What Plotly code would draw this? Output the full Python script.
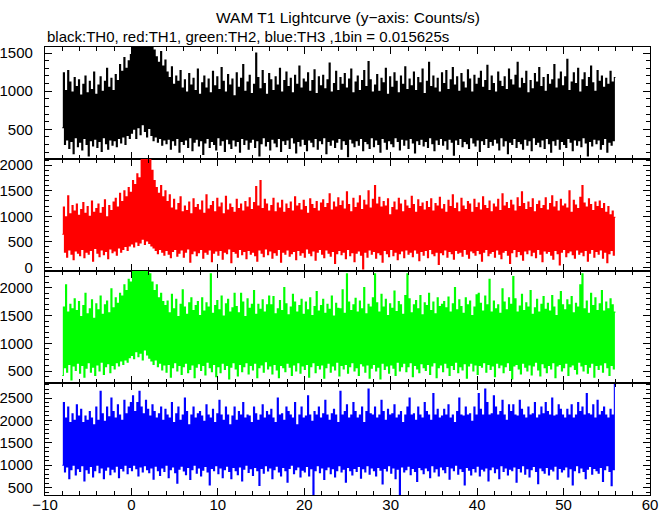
import numpy as np
import plotly.graph_objects as go
from plotly.subplots import make_subplots

# Time axis of the (re-binned) lightcurves, seconds
t_start = -8.0
bin_width = 0.125

# Counts/s (alternating local low / high of the dense band)
th0 = [
    520,1240, 300,1010, 360,1270, 250,1120, 340,990, 180,1180, 390,1060, 270,1150,
    330,950, 230,1090, 380,1200, 300,980, 150,1130, 350,1020, 280,1250, 370,960,
    260,1080, 340,1190, 210,1000, 390,1130, 310,1300, 240,1050, 360,1170, 290,1010,
    350,1220, 270,1140, 380,1350, 320,1260, 400,1440, 300,1300, 420,1400, 380,1480,
    450,1650, 500,1650, 380,1600, 520,1650, 430,1650, 560,1650, 470,1650, 400,1650,
    510,1650, 420,1620, 350,1540, 400,1450, 330,1380, 380,1520, 290,1330, 360,1410,
    310,1250, 370,1180, 240,1320, 350,1090, 290,1200, 380,1130, 200,1270, 340,1040,
    300,1150, 360,990, 260,1230, 390,1080, 220,1170, 330,1010, 370,1290, 280,960,
    350,1110, 170,1200, 320,1040, 380,1160, 260,980, 340,1260, 300,1070, 230,1190,
    390,1020, 290,1310, 350,1130, 210,990, 370,1220, 310,1080, 250,1160, 360,940,
    280,1240, 340,1050, 200,1170, 380,1350, 300,1000, 360,1120, 240,1210, 330,970,
    370,1090, 260,1500, 350,1180, 150,1030, 310,1270, 390,1100, 280,960, 340,1230,
    230,1150, 370,1010, 320,1190, 270,1080, 380,1300, 210,990, 350,1140, 300,1250,
    360,1060, 250,1170, 390,980, 320,1210, 190,1090, 340,1330, 280,1040, 370,1160,
    300,1120, 220,1240, 360,1000, 330,1140, 270,1280, 380,970, 240,1190, 350,1070,
    310,1210, 390,1030, 180,1150, 340,1370, 290,990, 360,1100, 260,1260, 330,1010,
    380,1180, 240,1090, 350,1230, 300,1040, 140,1160, 370,1290, 320,980, 270,1120,
    350,1200, 290,1010, 380,1140, 220,1270, 340,1060, 310,1390, 250,1150, 390,990,
    270,1080, 360,1220, 300,1000, 200,1170, 380,1110, 330,1300, 240,960, 350,1190,
    310,1050, 270,1240, 390,1130, 340,980, 230,1200, 370,1090, 290,1320, 360,1020,
    250,1160, 380,1070, 320,1250, 190,1010, 350,1180, 300,1110, 370,1290, 280,970,
    340,1130, 260,1380, 390,1060, 310,1200, 220,1040, 360,1170, 300,990, 380,1240,
    290,1100, 350,1270, 240,1020, 370,1150, 330,1310, 160,1080, 360,1190, 300,1000,
    380,1230, 270,1120, 340,1040, 310,1280, 250,1160, 390,990, 320,1210, 280,1090,
    360,1170, 210,1260, 350,1050, 300,1140, 380,1340, 260,1010, 340,1200, 290,1100,
    370,990, 320,1250, 230,1130, 390,1060, 280,1190, 350,1020, 180,1290, 330,1150,
    300,1080, 380,1210, 260,1380, 340,1040, 310,1170, 240,1100, 370,1260, 290,980,
    350,1140, 220,1030, 390,1230, 300,1120, 330,1310, 270,1060, 360,1180, 250,1000,
    380,1220, 310,1090, 200,1150, 350,1350, 290,1040, 370,1160, 240,1250, 340,1070,
    300,1190, 260,1420, 380,1010, 330,1120, 220,1240, 360,1100, 290,1300, 350,990,
    270,1150, 390,1240, 320,1060, 150,1180, 340,1330, 280,1110, 370,1000, 310,1270,
    360,1130, 240,1200, 300,1050, 380,1170, 200,1090, 330,1260, 290,1120, 350,1180,
]

th1 = [
    650,1180, 300,990, 200,1400, 340,1050, 260,1210, 150,1100, 320,1240, 280,1020,
    230,1130, 350,1270, 190,1060, 300,1190, 260,1000, 330,1300, 120,1080, 370,1150,
    280,1240, 210,1060, 340,1170, 250,1320, 310,990, 170,1210, 360,1110, 290,1280,
    320,1350, 240,1180, 380,1450, 300,1290, 350,1500, 410,1380, 330,1560, 420,1470,
    460,1700, 400,1620, 500,1830, 430,1750, 480,2200, 550,2200, 450,2200, 520,2200,
    470,2200, 420,1900, 380,1700, 330,1560, 270,1450, 350,1600, 300,1380, 240,1500,
    330,1290, 260,1420, 190,1160, 310,1330, 350,1120, 220,1250, 280,1380, 340,1090,
    200,1200, 300,1110, 360,1280, 100,1050, 270,1340, 320,1170, 230,1230, 290,1120,
    350,1300, 180,1060, 300,1420, 260,1140, 340,1210, 110,1290, 280,1090, 320,1350,
    240,1180, 330,1260, 160,1050, 300,1390, 270,1120, 360,1240, 90,1170, 310,1080,
    280,1330, 200,1150, 350,1240, 250,1100, 310,1290, 170,1180, 330,1360, 260,1130,
    300,1270, 230,1580, 120,1200, 340,1700, 280,1150, 210,1330, 360,1240, 250,1100,
    320,1210, 180,1350, 290,1090, 240,1260, 350,1160, 100,1310, 300,1080, 260,1240,
    340,1150, 220,1280, 270,1100, 310,1380, 150,1200, 330,1250, 240,1120, 290,1310,
    200,1190, 360,1060, 280,1340, 230,1230, 320,1150, 140,1290, 300,1100, 350,1260,
    260,1320, 190,1170, 340,1250, 280,1440, 220,1120, 310,1280, 80,1180, 270,1360,
    330,1210, 250,1300, 300,1140, 170,1480, 350,1230, 230,1090, 290,1350, 110,1170,
    280,1260, 320,1400, 240,1130, -30,1310, 300,1220, 200,1500, 340,1160, 260,1330,
    310,1600, 180,1240, 290,1370, 250,1180, 100,1290, 330,1200, 270,1340, 210,1030,
    350,1170, 230,1280, 300,1120, 150,1350, 270,1240, 320,1090, 190,1310, 340,1200,
    260,1150, 300,1390, 210,1230, 340,1080, 280,1320, 130,1190, 310,1260, 240,1120,
    330,1290, 190,1170, 350,1340, 270,1100, 230,1250, 300,1200, 60,1370, 290,1140,
    250,1230, 340,1080, 200,1310, 310,1190, 270,1420, 160,1150, 330,1260, 280,1090,
    300,1350, 220,1200, 350,1130, 260,1290, 180,1240, 320,1080, 290,1330, 240,1170,
    330,1260, 270,1120, 120,1380, 300,1210, 350,1150, 230,1300, 280,1090, 310,1240,
    200,1180, 340,1330, 260,1110, 170,1440, 300,1200, 330,1270, 240,1150, 80,1310,
    290,1220, 350,1100, 210,1360, 310,1190, 250,1480, 140,1250, 320,1130, 270,1280,
    340,1170, 230,1340, 300,1090, 190,1230, 350,1300, 260,1150, 110,1210, 320,1360,
    280,1120, 310,1250, 240,1400, 160,1180, 330,1290, 270,1100, 50,1330, 300,1200,
    350,1240, 210,1160, 290,1500, 320,1080, 250,1310, 180,1220, 340,1150, 260,1370,
    300,1600, 230,1260, 330,1180, 120,1340, 280,1230, 350,1110, 200,1280, 310,1190,
    260,1300, 340,1150, 180,1250, 300,1080, 90,1190, 270,1030, 330,1100, 240,980,
]

th2 = [
    420,1650, 560,2050, 480,1560, 620,1700, 340,1620, 590,1800, 510,1590, 640,1750,
    460,1480, 600,1680, 390,1900, 550,1530, 650,1620, 480,1780, 570,1450, 420,1710,
    610,1600, 500,1850, 660,1520, 440,1690, 580,1760, 630,1550, 470,1980, 600,1640,
    540,1820, 650,1720, 590,1900, 680,1850, 620,2050, 700,1950, 660,2150, 740,2100,
    780,2350, 720,2350, 850,2350, 760,2350, 820,2350, 700,2350, 880,2350, 790,2350,
    730,2250, 680,2100, 620,1950, 700,2050, 580,1820, 640,1900, 520,1750, 610,1680,
    480,1760, 620,1550, 390,1880, 560,1620, 650,1790, 500,1480, 600,1700, 440,1960,
    580,1650, 640,1520, 470,1730, 530,1820, 610,1590, 380,1680, 570,1750, 630,1500,
    510,1820, 600,1580, 430,1730, 660,1650, 560,2250, 490,1540, 620,1680, 400,1770,
    580,1600, 470,1850, 640,1490, 530,1710, 600,1790, 360,1560, 570,1640, 650,1900,
    540,1660, 410,1550, 620,1900, 490,1740, 580,1480, 650,1800, 450,1630, 600,1700,
    520,1950, 640,1520, 380,1700, 560,1610, 610,1780, 480,1560, 670,1690, 540,1850,
    590,1690, 450,1840, 620,1530, 520,1620, 380,1770, 600,1590, 560,2000, 490,1710,
    640,1510, 570,1650, 420,1880, 610,1740, 500,1560, 650,1680, 460,1790, 590,1520,
    530,1740, 620,1600, 390,1820, 580,1500, 650,1660, 470,1930, 600,1580, 540,1680,
    610,1790, 370,1540, 560,1700, 640,1610, 480,1850, 590,1490, 520,1720, 660,1630,
    410,1620, 600,1960, 540,1540, 620,2250, 460,1740, 580,1590, 650,1690, 500,1810,
    560,1560, 420,1760, 630,1620, 590,2000, 480,1530, 610,1700, 370,1650, 550,1820,
    620,2250, 500,1730, 570,1560, 360,1880, 640,1650, 530,1790, 590,1500, 460,1710,
    610,1630, 550,1940, 420,1570, 660,1750, 500,1690, 580,1520, 640,1860, 490,2250,
    580,1800, 650,1550, 400,1690, 600,1770, 540,1620, 470,1860, 630,1510, 560,1730,
    510,1680, 620,1900, 440,1590, 590,1740, 650,1530, 380,1820, 560,1660, 610,1700,
    490,1750, 640,1640, 560,1830, 420,1560, 600,1710, 530,2000, 660,1600, 470,1780,
    580,1660, 520,1540, 630,1820, 370,1690, 590,1760, 640,1500, 500,1650, 610,1870,
    440,1900, 600,1720, 570,1580, 650,1850, 480,1690, 620,2150, 530,1560, 590,1760,
    400,1620, 640,1690, 560,1540, 610,1980, 470,1740, 580,1600, 650,1820, 510,1700,
    360,2200, 590,1800, 620,1560, 540,1670, 450,1880, 640,1590, 570,1730, 500,1650,
    610,1950, 430,1520, 590,1640, 660,1790, 520,1560, 410,1700, 630,1840, 560,1610,
    470,1720, 600,1580, 540,1860, 650,1650, 380,1500, 590,1780, 620,1930, 500,1690,
    560,1600, 640,1780, 420,1690, 580,1840, 610,1550, 530,1720, 450,1650, 660,2050,
    590,2250, 500,1620, 620,1760, 460,1540, 570,1900, 640,1680, 390,1820, 600,1590,
    530,1710, 610,1950, 480,1580, 650,1740, 560,1620, 420,1800, 600,1690, 540,1560,
]

th3 = [
    1000,2400, 850,2050, 960,2300, 700,1950, 900,2150, 1000,2000, 780,2350, 920,2100,
    860,2250, 990,1950, 650,2100, 900,2000, 820,2200, 970,2050, 740,1900, 880,2300,
    1000,2000, 830,2650, 940,2150, 700,1980, 890,2300, 960,2080, 790,2500, 910,2200,
    850,2050, 980,2350, 720,2120, 930,2000, 870,2450, 1000,2150, 810,2300, 950,2400,
    880,2550, 1000,2200, 920,2400, 760,2650, 960,2300, 850,2150, 990,2450, 900,2250,
    830,2100, 940,2350, 690,2200, 980,2050, 880,2150, 770,2300, 940,2000, 860,2250,
    1000,2120, 720,2050, 900,2400, 960,1950, 830,2150, 600,2300, 910,2000, 980,2120,
    870,2500, 790,2200, 950,1900, 680,2120, 900,2300, 1000,2050, 820,2150, 940,2200,
    760,2100, 890,1980, 970,2350, 850,2120, 560,2050, 930,2250, 880,1950, 990,2150,
    810,2450, 940,2120, 720,2000, 900,2300, 980,2120, 860,1900, 700,2100, 950,2300,
    880,2000, 790,2200, 960,2120, 650,2400, 910,2050, 1000,2120, 840,2100, 920,1950,
    770,2300, 950,2150, 880,2000, 550,2120, 930,2350, 820,2050, 990,2200, 870,2120,
    940,2250, 700,2050, 900,1950, 980,2500, 850,2120, 760,2150, 950,2000, 880,2300,
    620,2200, 930,2120, 1000,2050, 810,2400, 900,1900, 960,2120, 740,2300, 890,2050,
    850,2100, 970,2550, 760,2120, 920,1980, 350,2200, 880,2120, 990,2300, 830,2050,
    940,2150, 680,2450, 900,2120, 960,2000, 810,2150, 920,2250, 740,2120, 880,1950,
    990,2650, 850,2120, 910,2200, 620,2350, 950,2050, 880,2120, 780,2400, 930,2200,
    860,2050, 970,2120, 710,2300, 920,1950, 850,2200, 990,2700, 800,2150, 940,2120,
    880,2300, 760,2050, 950,2120, 890,2450, 580,2200, 930,2000, 870,2250, 990,2120,
    820,2150, 940,2350, 700,2050, 910,2120, 340,2200, 960,1950, 850,2120, 900,2300,
    980,2500, 790,2120, 930,2150, 860,2000, 640,2300, 950,2120, 900,2050, 810,2400,
    940,2200, 880,2120, 720,2000, 990,2600, 850,2120, 920,2250, 760,2050, 960,2100,
    900,2250, 830,2120, 970,2350, 690,2050, 940,2120, 880,1950, 1000,2200, 800,2500,
    920,2120, 860,2100, 560,2300, 950,2120, 890,2150, 780,1980, 930,2300, 850,2120,
    980,2600, 760,2250, 910,2120, 870,2700, 940,2400, 650,2120, 900,2150, 960,2550,
    830,2300, 920,2120, 700,2200, 990,2450, 860,2120, 940,2000, 780,2350, 910,2200,
    880,2350, 960,2120, 620,2100, 930,2450, 850,2250, 990,2120, 800,2050, 920,2300,
    740,2120, 900,2150, 970,2400, 860,2050, 590,2120, 940,2300, 880,2150, 820,2400,
    950,2200, 780,2120, 910,2500, 870,2100, 980,2120, 690,2350, 930,2250, 850,2120,
    900,2050, 960,2250, 740,2120, 920,2350, 560,2050, 880,2120, 990,2400, 830,2200,
    940,2300, 860,2120, 700,2600, 910,2150, 970,2120, 800,2350, 930,2050, 880,2450,
    820,2120, 950,2200, 640,2300, 900,2120, 990,2050, 860,2250, 540,2120, 900,2800,
]

series_names = ["TH0", "TH1", "TH2", "TH3"]
series_values = [th0, th1, th2, th3]
series_colors = ["#000000", "#ff0000", "#00ff00", "#0000ff"]
y_ranges = [[110, 1580], [-70, 2120], [285, 2300], [335, 2835]]

title_text = "WAM T1 Lightcurve (y\u2212axis: Counts/s)"
subtitle_text = "black:TH0, red:TH1, green:TH2, blue:TH3 ,1bin = 0.015625s"

FONT = "Liberation Sans, Arial, Helvetica, sans-serif"

fig = make_subplots(rows=4, cols=1, shared_xaxes=True, vertical_spacing=0)

for i, (name, vals, color) in enumerate(zip(series_names, series_values, series_colors), start=1):
    n = len(vals)
    x = t_start + bin_width * np.arange(n + 1)
    y = list(vals) + [vals[-1]]
    fig.add_trace(
        go.Scatter(x=x, y=y, mode="lines", name=name,
                   line=dict(color=color, width=1.1, shape="hv"),
                   showlegend=False, hoverinfo="skip"),
        row=i, col=1)
    fig.update_yaxes(
        range=y_ranges[i - 1], dtick=500, tick0=0,
        ticks="inside", ticklen=7, tickwidth=1, tickcolor="black",
        minor=dict(dtick=100, ticklen=3.5, ticks="inside", tickcolor="black", tickwidth=1, showgrid=False),
        showline=True, linecolor="black", linewidth=1.2, mirror="allticks",
        showgrid=False, zeroline=False, automargin=False,
        tickfont=dict(size=15, color="black", family=FONT),
        ticklabelstandoff=8,
        row=i, col=1)
    fig.update_xaxes(
        range=[-10, 60], dtick=10, tick0=0,
        ticks="inside", ticklen=7, tickwidth=1, tickcolor="black",
        minor=dict(dtick=2, ticklen=3.5, ticks="inside", tickcolor="black", tickwidth=1, showgrid=False),
        showline=True, linecolor="black", linewidth=1.2, mirror="allticks",
        showgrid=False, zeroline=False, automargin=False,
        tickfont=dict(size=15, color="black", family=FONT),
        ticklabelstandoff=-4,
        row=i, col=1)

fig.add_annotation(text=title_text, xref="paper", yref="paper", x=0.5, y=1,
                   yshift=30, xanchor="center", yanchor="middle", showarrow=False,
                   font=dict(size=15.5, color="black", family=FONT))
fig.add_annotation(text=subtitle_text, xref="paper", yref="paper", x=0, y=1,
                   yshift=11, xanchor="left", yanchor="middle", showarrow=False,
                   font=dict(size=15, color="black", family=FONT))

fig.update_layout(
    width=672, height=515,
    margin=dict(l=45, r=22, t=47, b=20),
    paper_bgcolor="white", plot_bgcolor="white",
    font=dict(family=FONT, color="black"),
)

# remove the default page margin so the figure fills the window exactly
fig.write_html("out.html",
               config={"displayModeBar": False},
               post_script="document.body.style.margin='0';document.body.style.overflow='hidden';")
